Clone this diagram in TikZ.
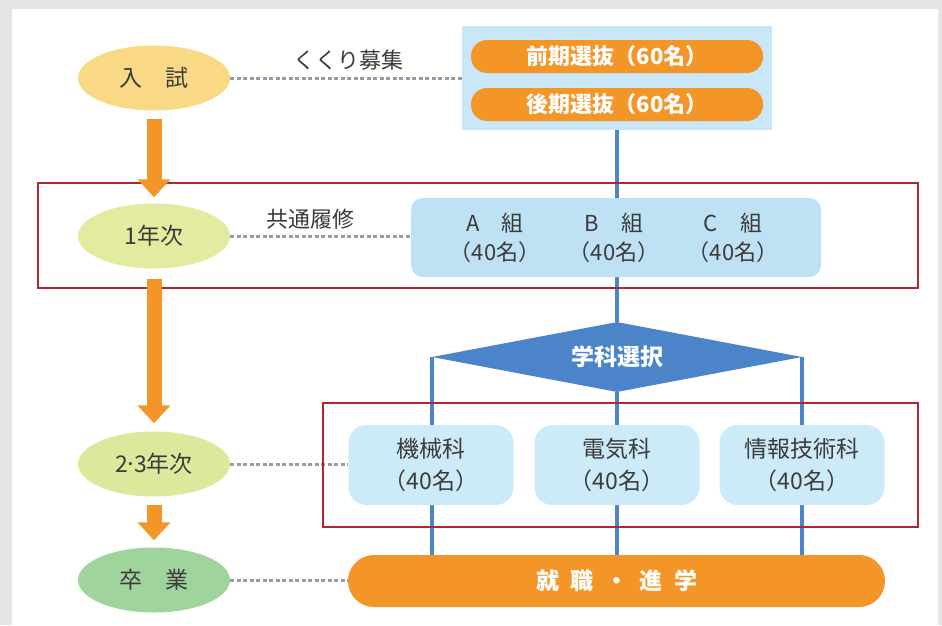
\documentclass[tikz,border=0pt]{standalone}
\usepackage{fontspec}
\setmainfont{Noto Sans CJK JP}
\usetikzlibrary{shapes.geometric,arrows.meta,positioning}
\pgfdeclarelayer{bg}
\pgfsetlayers{bg,main}
\definecolor{bggray}{HTML}{E5E5E5}
\definecolor{nyushi}{HTML}{F9D985}
\definecolor{nen1}{HTML}{E2EB9F}
\definecolor{nen23}{HTML}{DCE99C}
\definecolor{sotsu}{HTML}{9FD59C}
\definecolor{orng}{HTML}{F39527}
\definecolor{boxblue}{HTML}{C9E7F7}
\definecolor{kumiblue}{HTML}{BEE1F4}
\definecolor{deptblue}{HTML}{CDEAF8}
\definecolor{lineblue}{HTML}{4C84C9}
\definecolor{framered}{HTML}{B2262F}
\definecolor{dashgray}{HTML}{9A9AAA}
\definecolor{txtgray}{HTML}{3B3B3B}
\begin{document}
\begin{tikzpicture}[x=1pt,y=-1pt]
	\useasboundingbox (0,0) rectangle (942,625);
	\tikzstyle{stage}=[ellipse,minimum width=152pt,minimum height=65pt,inner sep=0pt,text=txtgray,font=\fontsize{23}{27}\selectfont]
	\tikzstyle{pill}=[rounded corners=16pt,fill=orng,minimum width=292pt,minimum height=33pt,inner sep=0pt,text=white,font=\fontsize{22}{26}\selectfont\bfseries]
	\tikzstyle{dept}=[rounded corners=18pt,fill=deptblue,minimum width=165pt,minimum height=80pt,inner sep=0pt,align=center,text=txtgray,font=\fontsize{23}{32}\selectfont]
	\tikzstyle{grp}=[align=center,inner sep=0pt,text=txtgray,font=\fontsize{22}{29}\selectfont]
	\tikzstyle{note}=[text=txtgray,font=\fontsize{22}{26}\selectfont]
	\tikzstyle{dots}=[draw=dashgray,line width=3pt,dash pattern=on 4pt off 2.5pt]
	\tikzstyle{frame}=[draw=framered,line width=2.5pt]
	\tikzstyle{flow}=[draw=lineblue,line width=3.5pt]

	\node[stage,fill=nyushi] (ent) at (154,78) {入\hspace{1em}試};
	\node[stage,fill=nen1] (y1) at (154,236) {1年次};
	\node[stage,fill=nen23] (y23) at (154,464) {2\kern-.15em·\kern-.15em3年次};
	\node[stage,fill=sotsu] (grad) at (154,580) {卒\hspace{1em}業};

	\node[fill=boxblue,minimum width=310pt,minimum height=104pt] (sel) at (617,78) {};
	\node[pill] (zenki) at (617,56.5) {前期選抜（60名）};
	\node[pill] (kouki) at (617,104.5) {後期選抜（60名）};

	\node[fill=kumiblue,rounded corners=12pt,minimum width=410pt,minimum height=79pt] (kumi) at (616,237.5) {};
	\node[grp] (kumiA) at (495,237.5) {A\hspace{1em}組\\（40名）};
	\node[grp] (kumiB) at (614,237.5) {B\hspace{1em}組\\（40名）};
	\node[grp] (kumiC) at (733,237.5) {C\hspace{1em}組\\（40名）};

	\node[diamond,shape aspect=5.3,fill=lineblue,minimum width=370pt,minimum height=70pt,inner sep=0pt,text=white,font=\fontsize{23}{27}\selectfont\bfseries] (gakka) at (617,357) {学科選択};

	\node[dept] (kikai) at (431,465) {機械科\\（40名）};
	\node[dept] (denki) at (617,465) {電気科\\（40名）};
	\node[dept] (joho) at (802,465) {情報技術科\\（40名）};

	\node[pill,minimum width=537pt,minimum height=52pt,rounded corners=26pt,font=\fontsize{23}{27}\selectfont\bfseries] (shu) at (616.5,581) {就\hspace{.5em}職\hspace{.5em}・\hspace{.5em}進\hspace{.5em}学};

	\node[note] (kukuri) at (348,60) {くくり募集};
	\node[note] (kyotsu) at (310,219) {共通履修};

	\draw[frame] (38,183) rectangle (918,288);
	\draw[frame] (323,403) rectangle (918,527);

	\begin{pgfonlayer}{bg}
		\fill[bggray] (0,0) rectangle (942,625);
		\fill[white] (12,9) rectangle (938,625);
		\draw[flow] (sel.south) -- (sel.south |- kumi.north);
		\draw[flow] (gakka.north |- kumi.south) -- (gakka.north);
		\draw[flow] (gakka.west) -- (gakka.west |- shu.north);
		\draw[flow] (gakka.south) -- (gakka.south |- shu.north);
		\draw[flow] (gakka.east) -- (gakka.east |- shu.north);
		\draw[dots] (ent.east) -- (ent.east -| sel.west);
		\draw[dots] (y1.east) -- (y1.east -| kumi.west);
		\draw[dots] (y23.east) -- (y23.east -| kikai.west);
		\draw[dots] (grad.east) -- (grad.east -| shu.west);
	\end{pgfonlayer}

	\begin{scope}[orng,line width=15pt,-{Triangle[width=32pt,length=18pt]}]
		\draw[shorten <=8pt,shorten >=6pt] (ent) -- (y1);
		\draw[shorten <=10pt,shorten >=8pt] (y1) -- (y23);
		\draw[shorten <=8pt,shorten >=7pt] (y23) -- (grad);
	\end{scope}
\end{tikzpicture}
\end{document}
